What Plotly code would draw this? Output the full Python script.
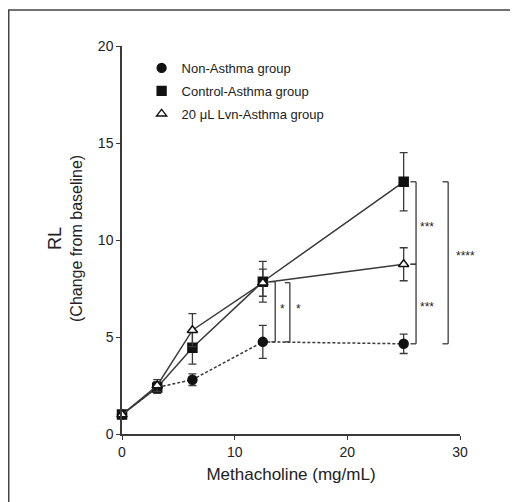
import plotly.graph_objects as go

# ---- data ----
dose = [0, 3.125, 6.25, 12.5, 25]
non_asthma = [1.0, 2.4, 2.8, 4.75, 4.65]
non_asthma_err = [0.15, 0.25, 0.3, 0.85, 0.5]
control_asthma = [1.0, 2.4, 4.45, 7.85, 13.0]
control_asthma_err = [0.15, 0.3, 0.85, 1.05, 1.5]
lvn_asthma = [1.0, 2.5, 5.35, 7.8, 8.75]
lvn_asthma_err = [0.1, 0.3, 0.85, 0.7, 0.85]
series_names = ["Non-Asthma group", "Control-Asthma group", "20 \u03bcL Lvn-Asthma group"]
x_ticks = [0, 10, 20, 30]
y_ticks = [0, 5, 10, 15, 20]

FONT = "Liberation Sans, Arial, sans-serif"
INK = "#222222"
LINE = "#3a3a3a"

# plot-area geometry in figure pixels (page body adds an 8px offset)
W, H = 510, 494
L, R, T, B = 114, 58, 38, 68
PW, PH = W - L - R, H - T - B


def px_to_paper_x(px):
    return (px - L) / PW


def px_to_paper_y(py):
    return (H - B - py) / PH


fig = go.Figure()


def add_series(y, err, name, symbol, size, fill, dash, group):
    fig.add_trace(go.Scatter(
        x=dose, y=y, mode="lines+markers", name=name, showlegend=False,
        line=dict(color=LINE, width=1.5, dash=dash),
        marker=dict(symbol=symbol, size=size, color=fill,
                    line=dict(color="#111111", width=1.5)),
        error_y=dict(type="data", array=err, visible=True, color=LINE,
                     thickness=1.3, width=4),
        cliponaxis=False,
    ))
    fig.add_trace(go.Scatter(
        x=[None], y=[None], mode="markers", name=name, showlegend=True,
        legendgroup=group,
        marker=dict(symbol=symbol, size=size, color=fill,
                    line=dict(color="#111111", width=1.3)),
    ))


add_series(non_asthma, non_asthma_err, series_names[0], "circle", 9, "#111111", "3px,2px", "g1")
add_series(control_asthma, control_asthma_err, series_names[1], "square", 9, "#111111", "solid", "g2")
add_series(lvn_asthma, lvn_asthma_err, series_names[2], "triangle-up", 9, "white", "solid", "g3")

# ---- significance brackets (built from series values) ----
shapes = []
annotations = []


def bracket(xpos, y_top, y_bot, leg, label, lx, ly, label_paper=False):
    shapes.append(dict(type="line", xref="x", yref="y", x0=xpos, x1=xpos, y0=y_bot, y1=y_top,
                       line=dict(color=LINE, width=1.3)))
    for yy in (y_top, y_bot):
        shapes.append(dict(type="line", xref="x", yref="y", x0=xpos - leg, x1=xpos, y0=yy, y1=yy,
                           line=dict(color=LINE, width=1.3)))
    ann = dict(x=lx, y=ly, xref="x", yref="y", text=label, showarrow=False,
               xanchor="center", yanchor="middle",
               font=dict(family=FONT, size=12, color=INK))
    if label_paper:
        # label sits right of the x range, so place it in paper units
        ann.update(xref="paper", yref="paper", x=lx / 30.0, y=ly / 20.0)
    annotations.append(ann)


bracket(13.6, control_asthma[3], non_asthma[3], 0.35, "*", 14.25, 6.45)
bracket(14.9, lvn_asthma[3], non_asthma[3], 0.45, "*", 15.65, 6.45)
bracket(26.1, control_asthma[4], lvn_asthma[4], 0.5, "***", 27.1, 10.65)
bracket(26.1, lvn_asthma[4], non_asthma[4], 0.5, "***", 27.1, 6.55)
bracket(28.95, control_asthma[4], non_asthma[4], 0.5, "****", 30.45, 9.2, label_paper=True)

# outer frame (extends past the right and bottom edges)
shapes.append(dict(type="rect", xref="paper", yref="paper",
                   x0=px_to_paper_x(0.75), x1=px_to_paper_x(540),
                   y0=px_to_paper_y(520), y1=px_to_paper_y(2),
                   line=dict(color="#444444", width=1.5), fillcolor="rgba(0,0,0,0)", layer="below"))

# y-axis title
annotations.append(dict(
    xref="paper", yref="paper", x=px_to_paper_x(57), y=px_to_paper_y(231),
    xanchor="center", yanchor="middle", textangle=-90, showarrow=False,
    text="<span style='font-size:18px'>RL</span><br>(Change from baseline)",
    font=dict(family=FONT, size=16, color=INK)))

fig.update_layout(
    width=W, height=H,
    margin=dict(l=L, r=R, t=T, b=B),
    paper_bgcolor="white", plot_bgcolor="white",
    font=dict(family=FONT, color=INK, size=13),
    shapes=shapes, annotations=annotations,
    legend=dict(x=0.058, y=0.982, xanchor="left", yanchor="top",
                bgcolor="rgba(0,0,0,0)", font=dict(family=FONT, size=13, color=INK),
                itemwidth=30, tracegroupgap=3),
    xaxis=dict(range=[0, 30], tickvals=x_ticks, showline=True, linecolor=LINE, linewidth=1.5,
               ticks="outside", ticklen=4, tickcolor=LINE, tickwidth=1.3, showgrid=False,
               zeroline=False, tickfont=dict(size=14, color=INK),
               title=dict(text="Methacholine (mg/mL)", font=dict(size=17, color=INK), standoff=10)),
    yaxis=dict(range=[0, 20], tickvals=y_ticks, showline=True, linecolor=LINE, linewidth=1.5,
               ticks="outside", ticklen=4, tickcolor=LINE, tickwidth=1.3, showgrid=False,
               zeroline=False, tickfont=dict(size=14, color=INK)),
)

fig.write_html("out.html")
